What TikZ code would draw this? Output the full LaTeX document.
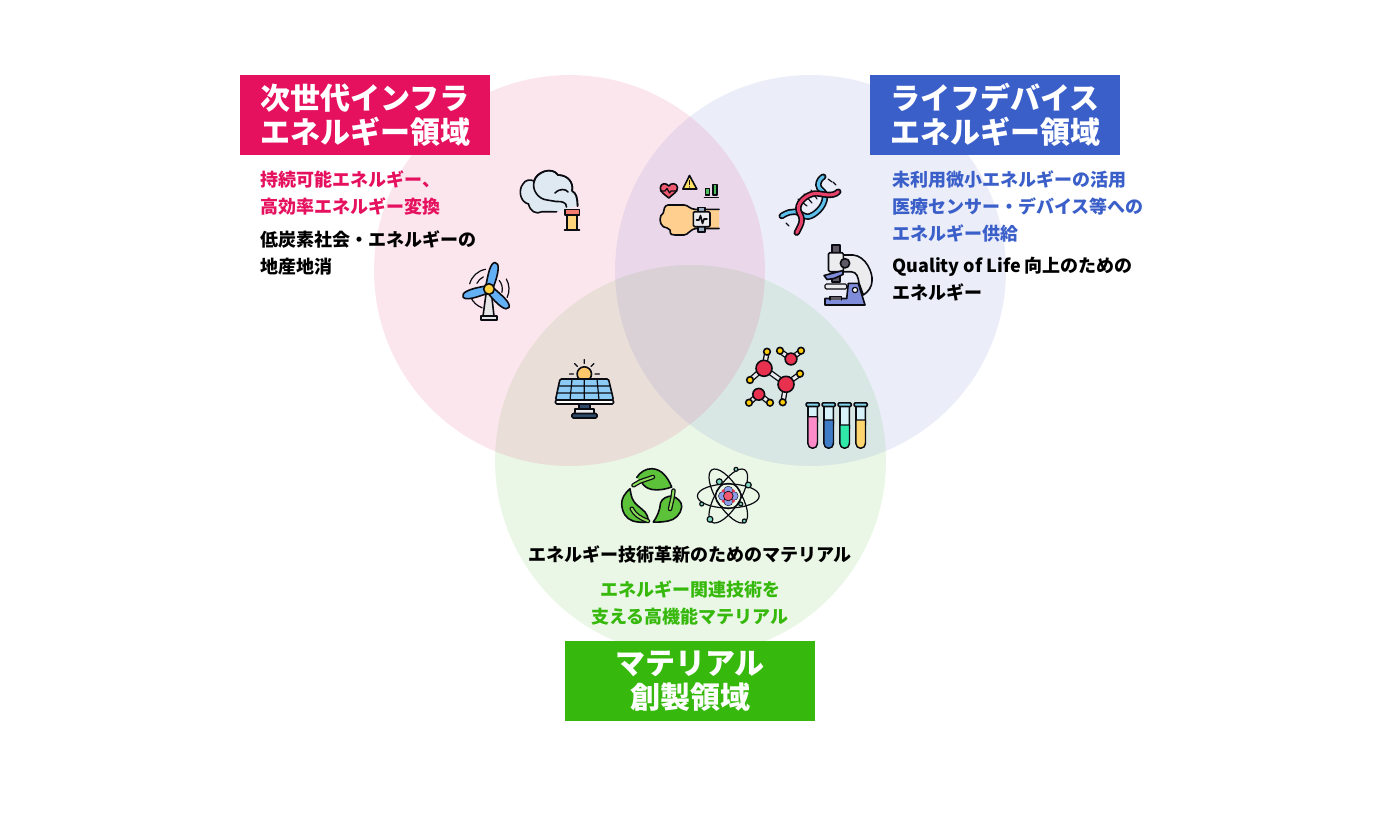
\documentclass[tikz,border=0pt]{standalone}
\usepackage{fontspec}
\setmainfont{Noto Sans CJK JP}
\usetikzlibrary{positioning}
\definecolor{infra}{HTML}{E5105E}
\definecolor{life}{HTML}{3B5FC9}
\definecolor{material}{HTML}{36B90C}
\definecolor{ink}{HTML}{0B0B12}
\definecolor{cloudfill}{HTML}{DFE9F2}
\definecolor{chimneyfill}{HTML}{FFD47A}
\definecolor{capfill}{HTML}{F47C6E}
\definecolor{towerfill}{HTML}{E6E6E6}
\definecolor{bladefill}{HTML}{64B0F5}
\definecolor{hubfill}{HTML}{FFD23F}
\definecolor{skinfill}{HTML}{FFCF90}
\definecolor{bandfill}{HTML}{9FB0C2}
\definecolor{panelgray}{HTML}{ECECEF}
\definecolor{heartfill}{HTML}{F0596F}
\definecolor{warnfill}{HTML}{FFE066}
\definecolor{bargreen}{HTML}{4CC05E}
\definecolor{dnared}{HTML}{E8416A}
\definecolor{dnablue}{HTML}{5CC0EA}
\definecolor{eyedark}{HTML}{5F5865}
\definecolor{objblue}{HTML}{7F8CD9}
\definecolor{sunfill}{HTML}{FFC96B}
\definecolor{panelblue}{HTML}{8BCBF5}
\definecolor{footblue}{HTML}{2D4A6B}
\definecolor{atomred}{HTML}{E8304F}
\definecolor{atomyellow}{HTML}{FFCB05}
\definecolor{tubeglass}{HTML}{D8F2FA}
\definecolor{tubecap}{HTML}{7FD6E8}
\definecolor{tubepink}{HTML}{FF8CC8}
\definecolor{tubeblue}{HTML}{3F7CC8}
\definecolor{tubegreen}{HTML}{30E8A8}
\definecolor{tubeyellow}{HTML}{FFD570}
\definecolor{leaffill}{HTML}{5CC23A}
\definecolor{leaflight}{HTML}{8ADB5A}
\definecolor{nucblue}{HTML}{8C9CE8}
\definecolor{electron}{HTML}{7FD8C0}
\tikzset{
    area/.style={fill opacity=.1},
    title/.style={minimum width=187.5pt,minimum height=60pt,inner sep=0pt,text=white,align=center,
        font=\fontsize{22.5}{25.5}\selectfont\bfseries},
    note/.style={anchor=west,inner sep=0pt,align=left,font=\fontsize{13.5}{20.25}\selectfont\bfseries},
    notemid/.style={note,anchor=center,align=center},
    icon/.style={draw=ink,line width=1.2pt,line join=round,line cap=round},
    fine/.style={draw=ink,line width=.9pt,line join=round,line cap=round},
}
\begin{document}
\begin{tikzpicture}[x=.75pt,y=-.75pt]
    \fill[white] (0,0) rectangle (1380,821);
    \useasboundingbox (0,0) rectangle (1380,821);

    % circles
    \fill[material,area] (690.5,460.5) circle[radius=146.6pt];
    \fill[life,area] (810.5,270.5) circle[radius=146.6pt];
    \fill[infra,area] (569.5,270.5) circle[radius=146.6pt];

    % title boxes
    \node[title,fill=infra] (infrabox) at (365,115) {次世代インフラ\\エネルギー領域};
    \node[title,fill=life] (lifebox) at (995,115) {ライフデバイス\\エネルギー領域};
    \node[title,fill=material] (matbox) at (690,681) {マテリアル\\創製領域};

    % texts
    \node[note,text=infra] (infratop) at (260,192.5) {持続可能エネルギー、\\高効率エネルギー変換};
    \node[note,text=black] (infralow) at (260,252.5) {低炭素社会・エネルギーの\\地産地消};
    \node[note,text=life] (lifetop) at (892,206) {未利用微小エネルギーの活用\\医療センサー・デバイス等への\\エネルギー供給};
    \node[note,text=black] (lifelow) at (892,279.5) {Quality of Life 向上のための\\エネルギー};
    \node[notemid,text=black] (matlow) at (690,554) {エネルギー技術革新のためのマテリアル};
    \node[notemid,text=material] (mattop) at (690,602.5) {エネルギー関連技術を\\支える高機能マテリアル};

    % smoke and chimney
    \draw[icon,fill=cloudfill] (556.7,211.7) -- (542,211.7) .. controls (536,215) and (530,211) .. (528.5,204)
        .. controls (520,202) and (518,190) .. (523,184) .. controls (525,180) and (530,179) .. (534,181)
        .. controls (536,172) and (552,166) .. (558,175) .. controls (568,175) and (574,183) .. (572,191)
        .. controls (576,193) and (577.5,197) .. (577.5,206);
    \fill[cloudfill] (534,181) -- (572,191) -- (577,206) -- (567,206) -- (566,202) -- (556.7,211) -- (540,208) -- cycle;
    \draw[icon] (534,182) .. controls (532,190) and (538,199) .. (547,200) -- (556,201.5)
        .. controls (563,201) and (566.5,203) .. (566.5,207);
    \draw[icon] (534,182) .. controls (536,172) and (552,166) .. (558,175) .. controls (568,175) and (574,183) .. (572,191)
        .. controls (576,193) and (577.5,197) .. (577.5,206);
    \draw[icon] (555,193) .. controls (560,188) and (566,189) .. (568,192);
    \draw[icon,fill=chimneyfill] (567,215) rectangle (577,230);
    \draw[icon,fill=capfill] (565,209.5) rectangle (579.5,215);
    \draw[icon] (564.5,230) -- (579.5,230);

    % wind turbine
    \foreach \s/\e/\r in {100/165/15pt,30/-25/15pt,205/250/15pt,115/155/10pt,40/-15/10pt}
        \draw[fine,shift={(489,289)}] (\s:\r) arc[start angle=\s,end angle=\e,radius=\r];
    \draw[icon,fill=towerfill] (486,294) -- (483,316) -- (494,316) -- (491.5,294) -- cycle;
    \draw[icon,fill=towerfill] (480.7,316) rectangle (496.7,320);
    \foreach \a in {0,120,240}
        \draw[icon,fill=bladefill,rotate around={\a:(489,289)}] (486,285) .. controls (488,275) and (490,263) .. (495,262.5)
            .. controls (500,262.5) and (499,273) .. (493,288) -- cycle;
    \draw[icon,fill=hubfill] (489,289) circle[radius=4pt];

    % wrist watch
    \draw[icon,fill=skinfill] (719,209.3) -- (695,209.3) .. controls (690,209.3) and (688,205) .. (684,205) -- (668,205)
        .. controls (664,205.5) and (664,210) .. (663.3,213) .. controls (659,215) and (659,224) .. (663.3,226.7)
        .. controls (666,228) and (669,228) .. (670,230) .. controls (670,235) and (672,235) .. (675,235) -- (684,235)
        .. controls (688,235) and (691,228.5) .. (696,228.5) -- (719,228.5);
    \draw[icon,fill=bandfill] (697.7,207.3) rectangle (705,231.7);
    \draw[icon,fill=panelgray,rounded corners=1pt] (693.3,211.7) rectangle (710,226.7);
    \draw[icon] (696.5,220) -- (699,220) -- (700.5,215.5) -- (702.5,223.5) -- (704,219) -- (707,219);
    \draw[icon,fill=heartfill] (668.8,198) .. controls (664,194) and (660,192) .. (660.3,187.5)
        .. controls (661,183) and (666,182.5) .. (668.8,186) .. controls (671,182.5) and (677,183) .. (677.5,187.5)
        .. controls (677.5,192) and (673,194) .. (668.8,198) -- cycle;
    \draw[fine] (660.5,191) -- (665,191) -- (667,188.5) -- (669.5,193) -- (671,191) -- (677,191);
    \draw[icon,fill=warnfill] (689.5,175.5) -- (696.8,189) -- (682.8,189) -- cycle;
    \draw[fine] (689.5,180.5) -- (689.5,184.5) (689.5,186.8) -- (689.5,187);
    \draw[fine,fill=bargreen] (705.5,188.5) rectangle (709.5,195);
    \draw[fine,fill=bargreen] (713,184.5) rectangle (717,195);
    \draw[fine] (704.3,197.8) -- (718.3,197.8);

    % dna
    \foreach \x/\y/\u/\v in {786/223/789/226,798/199/807/206,804/194/812/203,811/190/817/199,828/179/832/182,833/182/836/185}
        \draw[fine] (\x,\y) -- (\u,\v);
    \draw[ink,line width=4.8pt,line cap=round] (781.7,216) .. controls (788,212) and (791,211.7) .. (795,211.7)
        .. controls (800,212) and (803,217) .. (808,216.7) .. controls (814,216) and (825,207) .. (825,196.7)
        .. controls (825,190) and (818.3,190) .. (818.3,185) .. controls (818.3,181) and (821,178) .. (823.3,176.7);
    \draw[dnablue,line width=2.3pt,line cap=round] (781.7,216) .. controls (788,212) and (791,211.7) .. (795,211.7)
        .. controls (800,212) and (803,217) .. (808,216.7) .. controls (814,216) and (825,207) .. (825,196.7)
        .. controls (825,190) and (818.3,190) .. (818.3,185) .. controls (818.3,181) and (821,178) .. (823.3,176.7);
    \draw[ink,line width=4.8pt,line cap=round] (796.7,232.7) .. controls (799,228) and (801.7,224) .. (801.7,220)
        .. controls (801.7,215) and (798.3,213) .. (798.3,208.3) .. controls (798.3,201) and (808,194) .. (815,193.5)
        .. controls (822,193) and (832,198) .. (838.3,191.7);
    \draw[dnared,line width=2.3pt,line cap=round] (796.7,232.7) .. controls (799,228) and (801.7,224) .. (801.7,220)
        .. controls (801.7,215) and (798.3,213) .. (798.3,208.3) .. controls (798.3,201) and (808,194) .. (815,193.5)
        .. controls (822,193) and (832,198) .. (838.3,191.7);

    % microscope
    \draw[icon,fill=panelgray] (843,255) -- (853,255) .. controls (866,256) and (873,273) .. (872,281)
        .. controls (872,287) and (868,292) .. (863.3,295) -- (859,283) .. controls (858,277) and (857,272) .. (851,271.7) -- (843,271.7) -- cycle;
    \draw[icon,fill=eyedark] (831.7,245) rectangle (840,252.7);
    \draw[icon,fill=panelgray,rounded corners=1pt] (828.5,252.7) rectangle (843.3,271.7);
    \draw[icon,fill=eyedark] (832,273) rectangle (840,282);
    \draw[icon,fill=objblue] (824,275.5) -- (843,270.5) -- (843,274.5) -- (834,278.5) -- (827,279.5) -- cycle;
    \draw[icon,fill=eyedark] (845,263.3) circle[radius=3.5pt];
    \draw[icon,fill=objblue] (848.3,283.3) -- (858.3,283.3) -- (865,305) -- (825,305) -- (825,298.5) -- (846.7,298.5) -- cycle;
    \draw[fine,fill=eyedark] (830,300) -- (830,296.7) -- (841.7,296.7) -- (841.7,300);
    \draw[fine,fill=white] (855,290) circle[radius=2pt];
    \draw[fine,fill=panelgray,rounded corners=1pt] (825,284) rectangle (846.7,289);

    % solar panel
    \draw[fine] (584.3,359.5) -- (584.3,363.5) (574.5,363.5) -- (577.5,366.5) (594,363.5) -- (591,366.5)
        (569.5,374) -- (573.5,374) (595,374) -- (599.5,374);
    \draw[icon,fill=sunfill] (584.3,374) circle[radius=5.4pt];
    \draw[icon,fill=panelblue,rounded corners=1pt] (560,379) -- (608.5,379) -- (613.5,400) -- (555.5,400) -- cycle;
    \draw[fine] (572,379) -- (570,400) (584.3,379) -- (584.3,400) (597,379) -- (599,400) (558.3,386) -- (610.5,386) (557,393) -- (612,393);
    \draw[icon,fill=white,rounded corners=1pt] (555.5,400) rectangle (613.5,404);
    \draw[icon,fill=footblue] (579,404) rectangle (590,409);
    \draw[fine,fill=panelgray] (575,409) rectangle (594,413.5);
    \draw[icon,fill=footblue,rounded corners=1pt] (572,413.5) rectangle (597,418);

    % molecules
    \foreach \x/\y/\u/\v in {764/368/767/352,764/368/750/380,764/368/786/384,786/384/800/374,786/384/783/402,
        791/359/780/351,791/359/801/351,759/394/749/403,759/394/770/403}
        {\draw[ink,line width=4.2pt] (\x,\y) -- (\u,\v);
         \draw[panelgray,line width=2.2pt] (\x,\y) -- (\u,\v);}
    \foreach \x/\y in {764/368.3,786/384.3}
        \draw[icon,fill=atomred] (\x,\y) circle[radius=6pt];
    \foreach \x/\y in {791/359,758.7/394.3}
        \draw[icon,fill=atomred] (\x,\y) circle[radius=4.4pt];
    \foreach \x/\y in {767/351.7,750/380,780/350.7,801/350.7,800/373.7,782.7/402.3,749/402.7,770/402.7}
        \draw[icon,fill=atomyellow] (\x,\y) circle[radius=2.5pt];

    % test tubes
    \foreach \x/\lvl/\col in {812.7/416.7/tubepink,828.7/420/tubeblue,844.7/425/tubegreen,860.7/420/tubeyellow}
        {\draw[icon,fill=tubeglass] (\x-4.7,405) -- (\x-4.7,443.5) arc[start angle=180,end angle=360,radius=3.5pt] -- (\x+4.7,405) -- cycle;
         \draw[fine,fill=\col] (\x-4.7,\lvl) -- (\x-4.7,443.5) arc[start angle=180,end angle=360,radius=3.5pt] -- (\x+4.7,\lvl) -- cycle;
         \draw[icon,fill=tubecap,rounded corners=.8pt] (\x-6.5,402.8) rectangle (\x+6.5,406.5);}

    % recycle leaves
    \draw[icon,fill=leaffill] (636.7,477.5) .. controls (640,472) and (646,468.5) .. (652,468.7) .. controls (662,469) and (668,478) .. (671.7,487)
        .. controls (665,489.5) and (658,490.5) .. (652,489.5) .. controls (647,488.5) and (644,486) .. (642,483);
    \draw[ink,line width=3.4pt,line cap=round] (633.5,485.3) -- (640,481.5) -- (653,477);
    \draw[leaflight,line width=1.5pt,line cap=round] (633.5,485.3) -- (640,481.5) -- (653,477);
    \draw[icon,fill=leaffill] (630,488.7) .. controls (624,494) and (621.5,499) .. (621.7,504) .. controls (622,512) and (626,519) .. (633,521)
        .. controls (638,522.5) and (643,522.5) .. (648.3,522) .. controls (648,517) and (647,514) .. (645,512)
        .. controls (640,507) and (634,504) .. (632,498) .. controls (631,495) and (630.5,492) .. (630,488.7) -- cycle;
    \draw[ink,line width=3.4pt,line cap=round] (631.7,508.7) .. controls (635,515) and (640,518) .. (648,521);
    \draw[leaflight,line width=1.5pt,line cap=round] (631.7,508.7) .. controls (635,515) and (640,518) .. (648,521);
    \draw[icon,fill=leaffill] (653.3,522) .. controls (657,517) and (660,510) .. (660.5,503) .. controls (662,498) and (668,496) .. (672,496)
        .. controls (678,498) and (682,502) .. (681.7,507) .. controls (681,514) and (675,520) .. (668,521)
        .. controls (663,522) and (658,522.3) .. (653.3,522) -- cycle;
    \draw[ink,line width=3.4pt,line cap=round] (673.5,490.5) -- (672.5,498) -- (670,509);
    \draw[leaflight,line width=1.5pt,line cap=round] (673.5,490.5) -- (672.5,498) -- (670,509);

    % atom
    \foreach \a in {0,58,-58}
        \draw[fine,rotate around={\a:(728.3,496)}] (728.3,496) ellipse[x radius=23.2pt,y radius=9pt];
    \draw[fine] (728.3,496) circle[radius=9.5pt];
    \foreach \a in {0,90,180,270}
        \draw[draw=ink,line width=.3pt,fill=nucblue,shift={(728.3,496)}] (\a:4pt) circle[radius=3.4pt];
    \foreach \a in {45,135,225,315}
        \draw[draw=none,fill=atomred,shift={(728.3,496)}] (\a:5.4pt) circle[radius=1.3pt];
    \draw[draw=ink,line width=.5pt,fill=heartfill] (728.3,496) circle[radius=3.6pt];
    \foreach \x/\y/\r in {719.3/481.7/2.2pt,748.3/485/2.2pt,736/469.3/1.5pt,710/519.3/2.2pt,744.3/521/1.5pt,701.7/504/1.5pt,740.7/504/1.5pt}
        \draw[fine,fill=electron] (\x,\y) circle[radius=\r];
\end{tikzpicture}
\end{document}
